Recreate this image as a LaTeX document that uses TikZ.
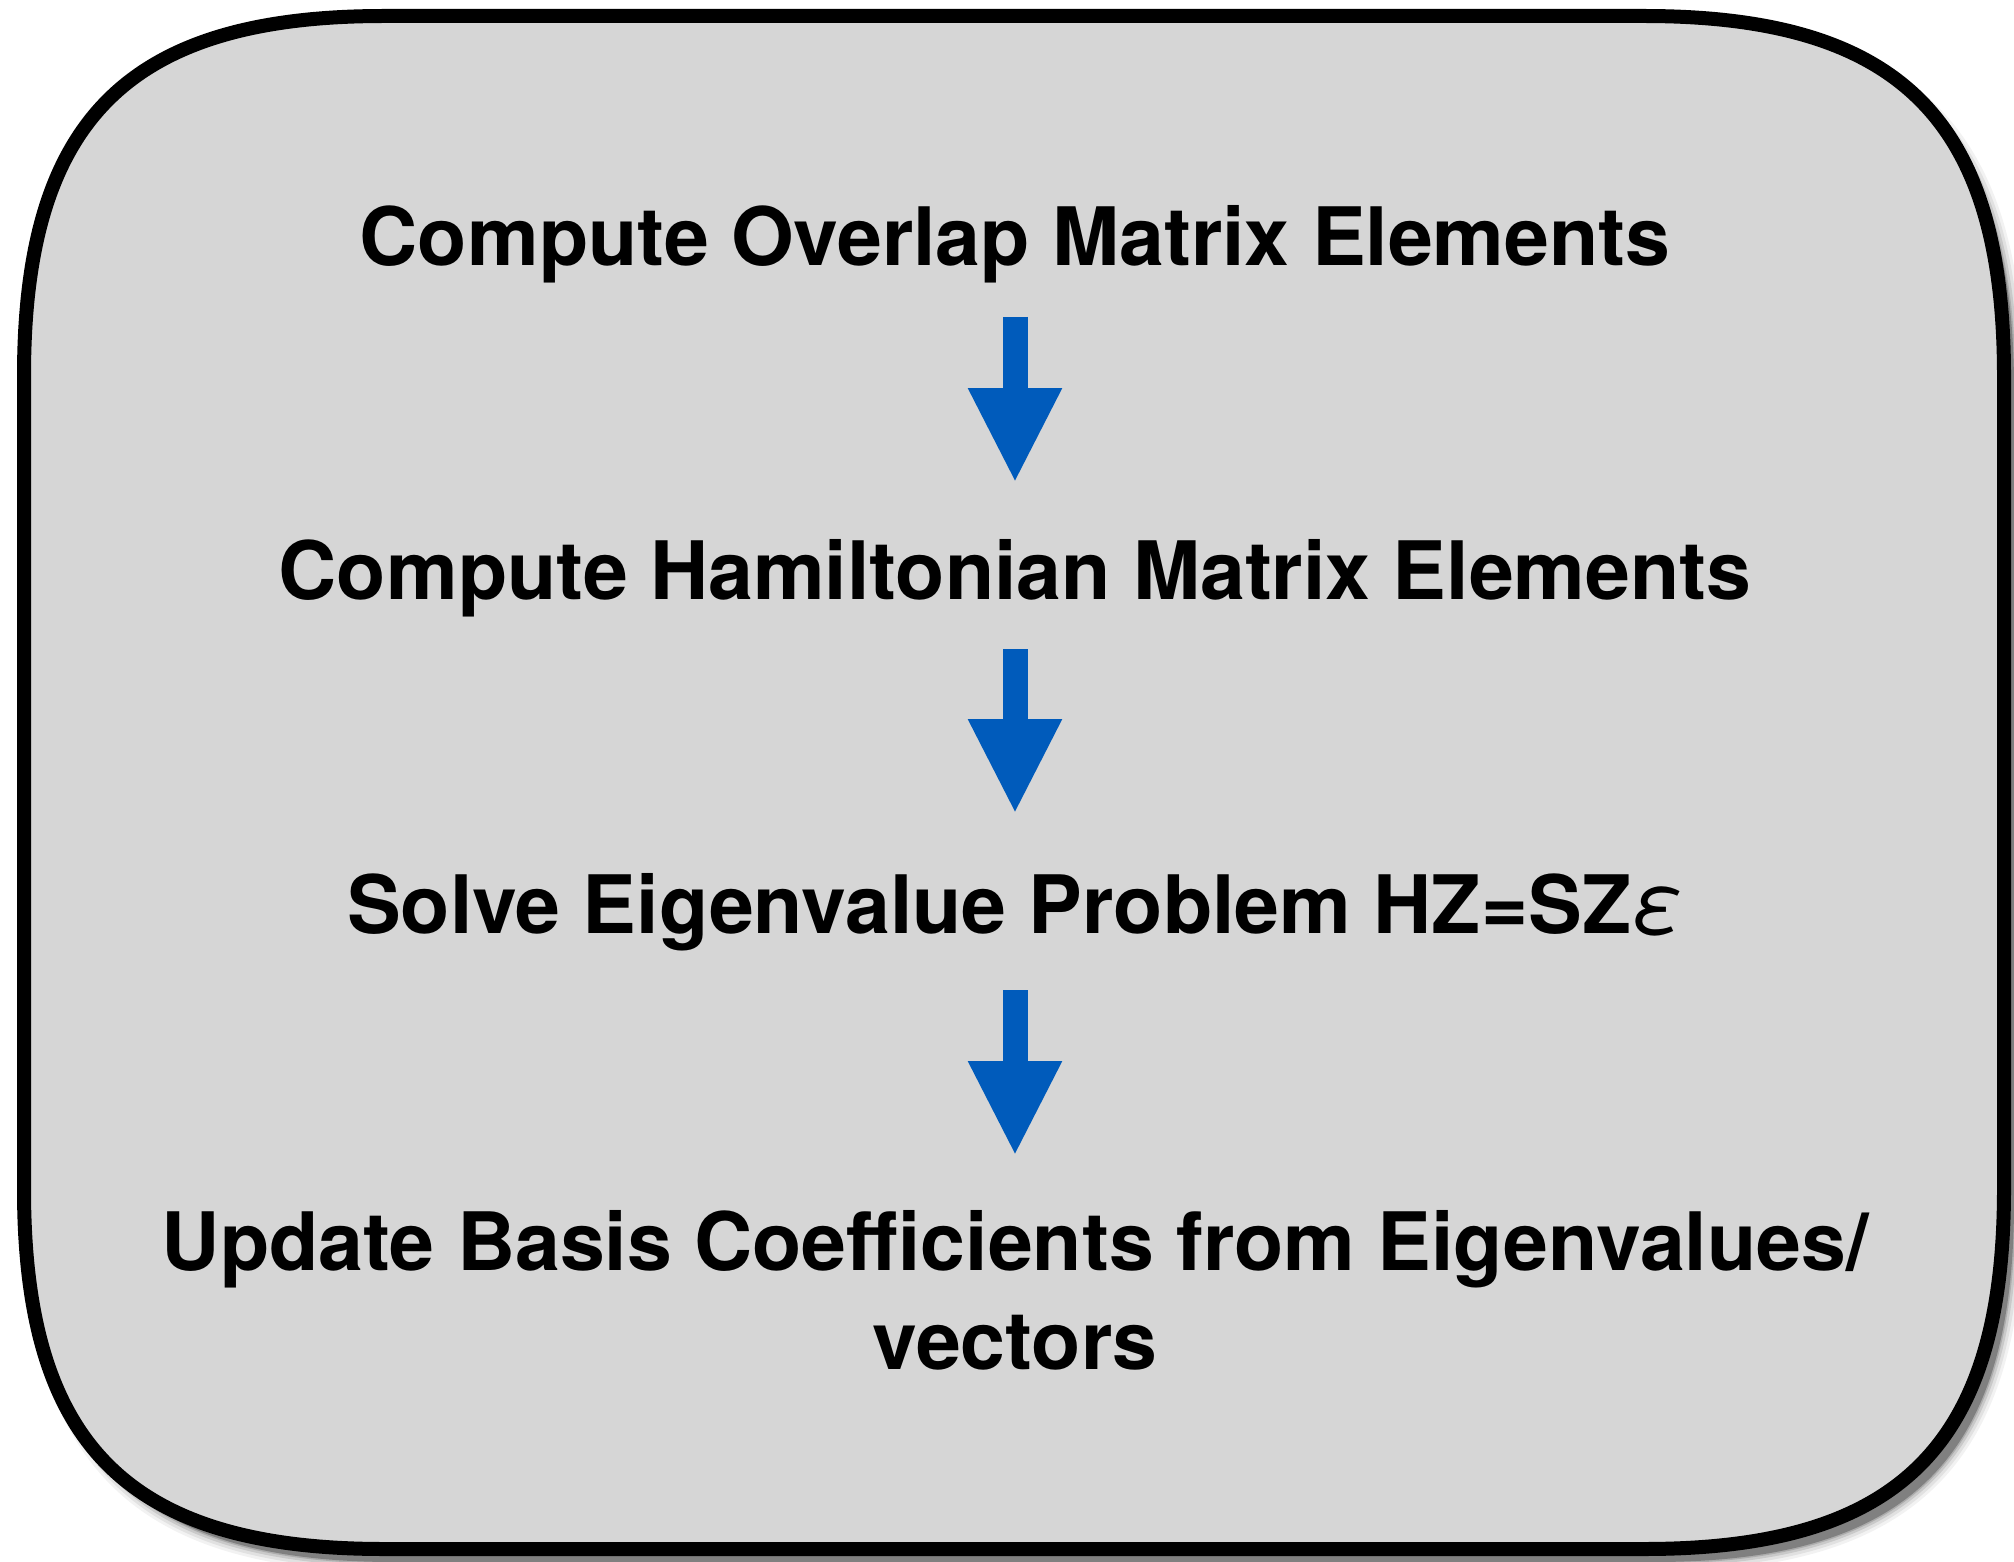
\documentclass[tikz,border=0pt]{standalone}
\usepackage{fontspec}
\setmainfont{TeX Gyre Heros}
\usetikzlibrary{arrows.meta}
\definecolor{boxfill}{HTML}{D6D6D6}
\definecolor{shadowgray}{HTML}{808080}
\definecolor{arrowblue}{HTML}{005BBB}
\tikzset{
  steptext/.style={anchor=base, inner sep=0pt, font=\bfseries\fontsize{80.6}{99}\selectfont},
  bigarrow/.style={draw=arrowblue, line width=25pt, -{Triangle[width=87pt,length=95pt]}, arrowblue},
}
\def\boxpath{(24,376) .. controls (24,120) and (128,16) .. (384,16)
 -- (1644,16) .. controls (1900,16) and (2004,120) .. (2004,376)
 -- (2004,1189) .. controls (2004,1445) and (1900,1549) .. (1644,1549)
 -- (384,1549) .. controls (128,1549) and (24,1445) .. (24,1189) -- cycle}
\begin{document}
\begin{tikzpicture}[x=1pt,y=-1pt]
\useasboundingbox (0,0) rectangle (2014,1562);
\clip (0,0) rectangle (2014,1562);
% shadow
\begin{scope}[shift={(10,13)}]
  \foreach \w/\o in {20/0.1,14/0.15,8/0.25,3/0.4}{
    \draw[shadowgray, line width=\w pt, opacity=\o, line join=round] \boxpath;
  }
  \fill[shadowgray] \boxpath;
\end{scope}
% main box
\draw[line width=14pt, fill=boxfill] \boxpath;
% texts
\node[steptext] (t1) at (1015,266) {Compute Overlap Matrix Elements};
\node[steptext] (t2) at (1015,599) {Compute Hamiltonian Matrix Elements};
\node[steptext] (t3) at (1015,933) {Solve Eigenvalue Problem HZ=SZ{\mdseries\itshape\fontsize{84}{99}\selectfont ε}};
\node[steptext] (t4) at (1015,1270) {Update Basis Coefficients from Eigenvalues/};
\node[steptext] (t4b) at (1015,1369) {vectors};
% arrows
\coordinate (a1s) at (1015,317); \coordinate (a1e) at (1015,483);
\coordinate (a2s) at (1015,649); \coordinate (a2e) at (1015,814);
\coordinate (a3s) at (1015,990); \coordinate (a3e) at (1015,1156);
\draw[bigarrow] (a1s) -- (a1e);
\draw[bigarrow] (a2s) -- (a2e);
\draw[bigarrow] (a3s) -- (a3e);
\end{tikzpicture}
\end{document}
